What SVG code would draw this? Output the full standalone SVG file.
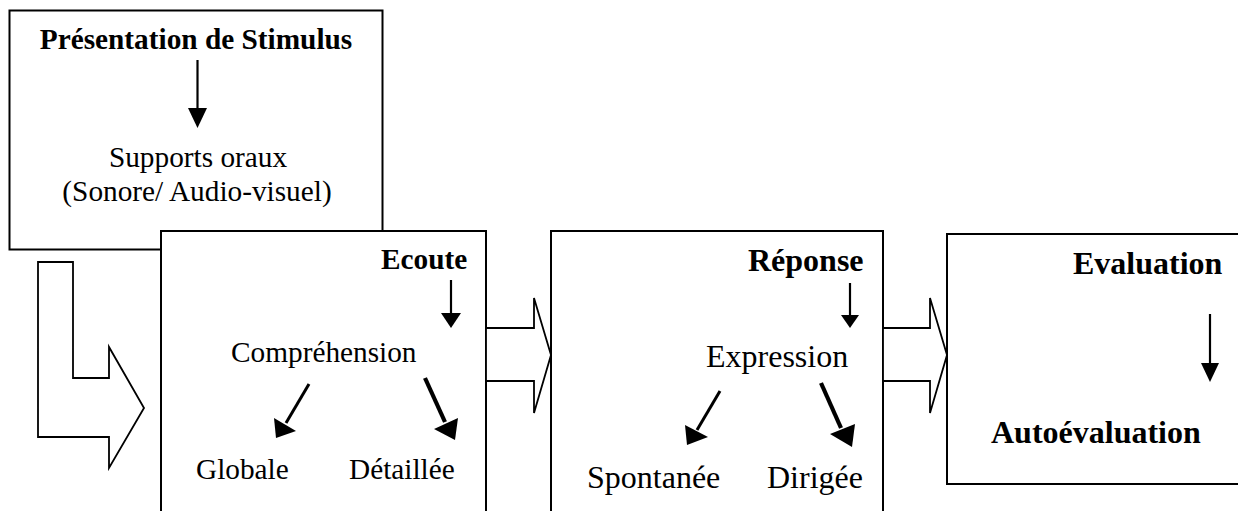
<svg xmlns="http://www.w3.org/2000/svg" width="1238" height="511" viewBox="0 0 1238 511">
<style>
.box{fill:#fff;stroke:#000;stroke-width:2}
.blk{fill:#fff;stroke:#000;stroke-width:1.8;stroke-linejoin:miter}
.t{font-family:"Liberation Serif","Times New Roman",serif;fill:#000}
.s29{font-size:29.3px}
.s32{font-size:32px}
.b{font-weight:bold}
.shaft{stroke:#000;stroke-width:2.2;fill:none}
.shaft3{stroke:#000;stroke-width:3;fill:none}
.shaft4{stroke:#000;stroke-width:4.2;fill:none}
.head{fill:#000;stroke:none}
</style>
<rect width="1238" height="511" fill="#fff"/>
<g id="stimulus">
<rect class="box" x="9.5" y="10.5" width="373" height="239"/>
<text class="t s29 b" x="196" y="49" text-anchor="middle">Présentation de Stimulus</text>
<text class="t s29" x="198" y="167" text-anchor="middle">Supports oraux</text>
<text class="t s29" x="197" y="201" text-anchor="middle">(Sonore/ Audio-visuel)</text>
</g>
<g id="ecoute">
<rect class="box" x="161" y="231" width="325" height="300"/>
<text class="t s29 b" x="381" y="269">Ecoute</text>
<text class="t s29" x="231" y="362">Compréhension</text>
<text class="t s29" x="196" y="479">Globale</text>
<text class="t s29" x="349" y="479">Détaillée</text>
</g>
<g id="reponse">
<rect class="box" x="551" y="231" width="332" height="300"/>
<text class="t s32 b" x="748" y="271">Réponse</text>
<text class="t s32" x="706" y="367">Expression</text>
<text class="t s32" x="587" y="488">Spontanée</text>
<text class="t s32" x="767" y="488">Dirigée</text>
</g>
<g id="evaluation">
<rect class="box" x="947" y="234" width="310" height="250"/>
<text class="t s32 b" x="1073" y="274">Evaluation</text>
<text class="t s32 b" x="991" y="443">Autoévaluation</text>
</g>
<g id="connectors">
<polygon class="blk" points="38,262 73,262 73,378 109,378 109,347 144,408 109,468 109,437 38,437"/>
<polygon class="blk" points="486,328 534,328 534,298 551,355 534,413 534,381 486,381"/>
<polygon class="blk" points="883,328 930,328 930,298 947,355 930,413 930,381 883,381"/>
<line class="shaft" x1="197.5" y1="60" x2="197.5" y2="110"/>
<polygon class="head" points="188,108 207,108 197.5,128"/>
<line class="shaft" x1="451" y1="280" x2="451" y2="315"/>
<polygon class="head" points="441,313 461,313 451,328"/>
<line class="shaft" x1="850" y1="283" x2="850" y2="317"/>
<polygon class="head" points="841,315 859,315 850,328"/>
<line class="shaft" x1="1210" y1="314" x2="1210" y2="365"/>
<polygon class="head" points="1201,363 1219,363 1210,382"/>
<line class="shaft3" x1="309" y1="384" x2="286" y2="423"/>
<polygon class="head" points="274,418 296,431 276,438"/>
<line class="shaft4" x1="425" y1="378" x2="445" y2="422"/>
<polygon class="head" points="434,429 458,418 455,440"/>
<line class="shaft3" x1="720" y1="391" x2="697" y2="430"/>
<polygon class="head" points="685,425 708,437 687,445"/>
<line class="shaft4" x1="821" y1="383" x2="841" y2="428"/>
<polygon class="head" points="830,434 855,424 852,447"/>
</g>
</svg>
